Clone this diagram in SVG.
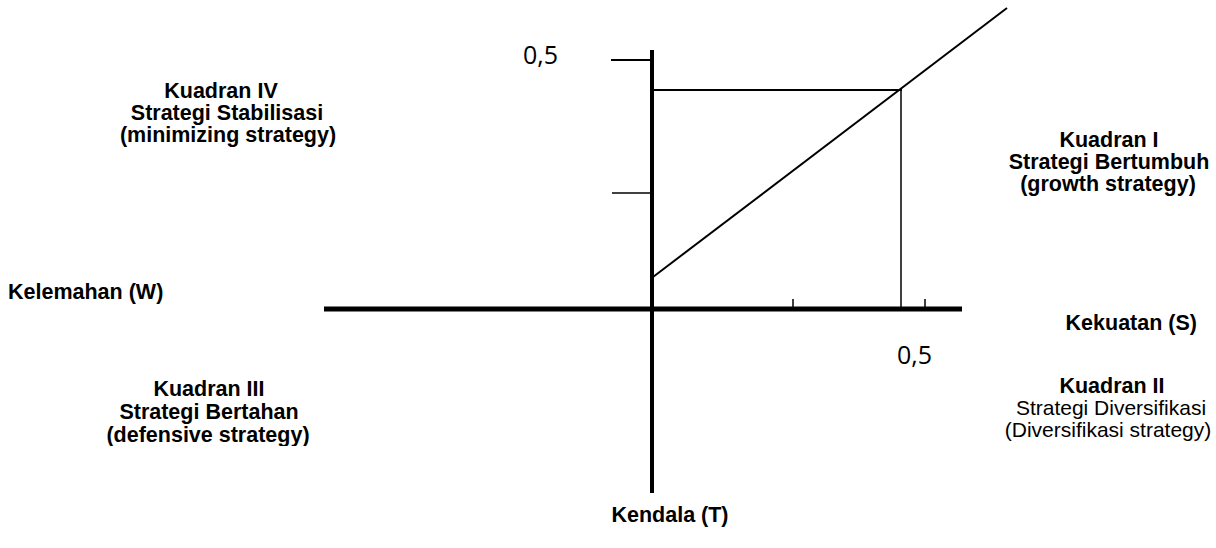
<svg xmlns="http://www.w3.org/2000/svg" width="1216" height="548" viewBox="0 0 1216 548">
<style>
.lbl{font-family:"Liberation Sans",Arial,sans-serif;font-size:21px;fill:#000;text-anchor:middle}
.b{font-weight:bold;font-size:21.5px}
.num{font-family:"Open Sans","Noto Sans",sans-serif;font-size:25px;fill:#000}
.ln{stroke:#000;fill:none;stroke-linecap:butt}
</style>
<defs>
<clipPath id="clip3"><rect x="80" y="370" width="280" height="76"/></clipPath>
</defs>
<rect width="1216" height="548" fill="#fff"/>
<g id="axes">
<line class="ln" x1="652" y1="50" x2="652" y2="493" stroke-width="4"/>
<line class="ln" x1="324" y1="309" x2="962" y2="309" stroke-width="5"/>
<line class="ln" x1="611" y1="60" x2="652" y2="60" stroke-width="2"/>
<line class="ln" x1="612" y1="193" x2="652" y2="193" stroke-width="1.5"/>
<line class="ln" x1="793" y1="299" x2="793" y2="309" stroke-width="1.5"/>
<line class="ln" x1="925" y1="299" x2="925" y2="309" stroke-width="1.5"/>
</g>
<g id="connectors">
<line class="ln" x1="652" y1="90" x2="902" y2="90" stroke-width="2"/>
<line class="ln" x1="901" y1="89" x2="901" y2="309" stroke-width="1.5"/>
<line class="ln" x1="653" y1="277" x2="1007" y2="8" stroke-width="2"/>
</g>
<g id="num-y"><text class="num" x="523" y="64">0,5</text></g>
<g id="num-x"><text class="num" x="897" y="364">0,5</text></g>
<g id="q4">
<text class="lbl b" x="221" y="98">Kuadran IV</text>
<text class="lbl b" x="227" y="120">Strategi Stabilisasi</text>
<text class="lbl b" x="228" y="142">(minimizing strategy)</text>
</g>
<g id="q1">
<text class="lbl b" x="1109" y="147">Kuadran I</text>
<text class="lbl b" x="1109" y="169">Strategi Bertumbuh</text>
<text class="lbl b" x="1108" y="191">(growth strategy)</text>
</g>
<g id="weak"><text class="lbl b" x="8" y="299" style="text-anchor:start">Kelemahan (W)</text></g>
<g id="strong"><text class="lbl b" x="1197" y="330" style="text-anchor:end">Kekuatan (S)</text></g>
<g id="q3" clip-path="url(#clip3)">
<text class="lbl b" x="209" y="396">Kuadran III</text>
<text class="lbl b" x="209" y="419">Strategi Bertahan</text>
<text class="lbl b" x="208" y="442">(defensive strategy)</text>
</g>
<g id="q2">
<text class="lbl b" x="1112" y="393">Kuadran II</text>
<text class="lbl" x="1111" y="415">Strategi Diversifikasi</text>
<text class="lbl" x="1108" y="437">(Diversifikasi strategy)</text>
</g>
<g id="threat"><text class="lbl b" x="670" y="522">Kendala (T)</text></g>
</svg>
